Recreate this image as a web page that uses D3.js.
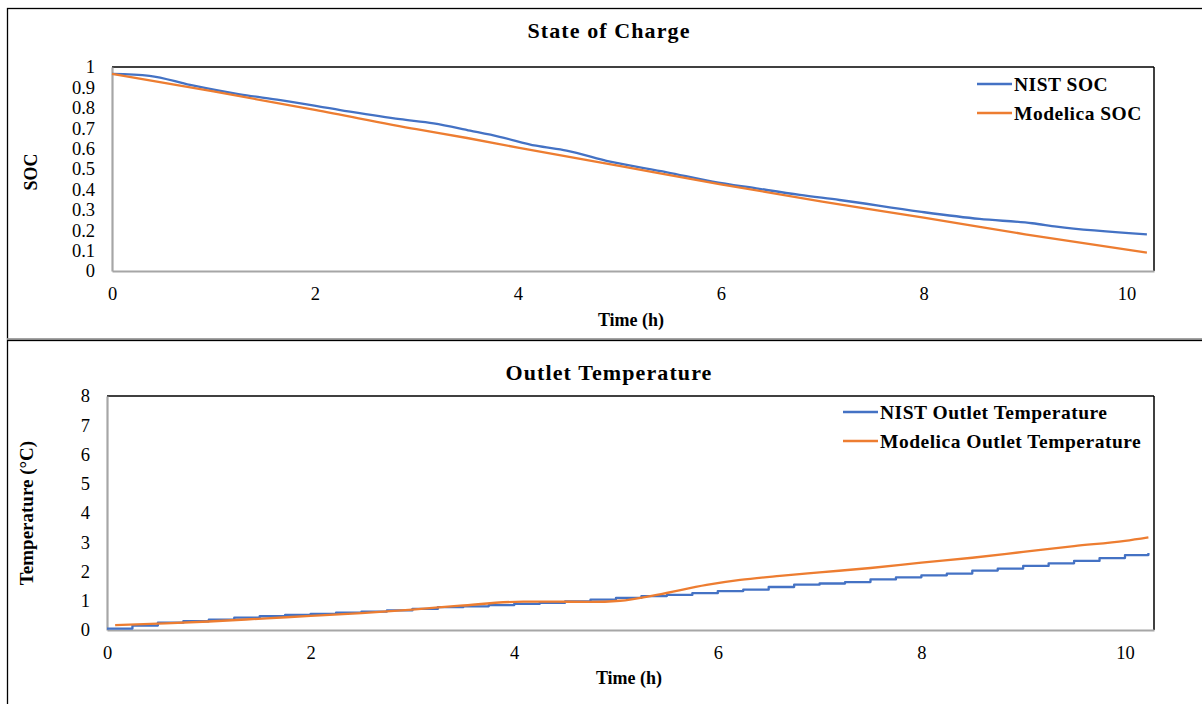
<!DOCTYPE html>
<html>
<head>
<meta charset="utf-8">
<script src="https://cdn.jsdelivr.net/npm/d3@7"></script>
<style>
  body { margin: 0; background: #fff; }
  svg { display: block; font-family: "Liberation Serif", "Times New Roman", serif; }
</style>
</head>
<body>
<svg id="chart" width="1202" height="704"></svg>
<script>
// ---- data ----
var timeTicks = [0, 2, 4, 6, 8, 10];
var socTicks = [0, 0.1, 0.2, 0.3, 0.4, 0.5, 0.6, 0.7, 0.8, 0.9, 1];
var tempTicks = [0, 1, 2, 3, 4, 5, 6, 7, 8];

var nistSocTime = [0, 0.37, 0.77, 1.26, 1.66, 2.25, 2.84, 3.17, 3.53, 3.82, 4.18, 4.48, 4.91, 5.47, 5.92, 6.35, 6.78, 7.17, 7.96, 8.55, 9.07, 9.31, 10.2];
var nistSoc = [0.966, 0.957, 0.912, 0.866, 0.838, 0.789, 0.744, 0.724, 0.688, 0.658, 0.614, 0.59, 0.536, 0.484, 0.438, 0.405, 0.373, 0.348, 0.291, 0.255, 0.234, 0.217, 0.18];

var modelicaSocTime = [0, 1, 2, 3, 3.5, 4, 5, 6, 7, 8, 9, 10.2];
var modelicaSoc = [0.966, 0.88, 0.79, 0.695, 0.652, 0.605, 0.515, 0.425, 0.34, 0.262, 0.18, 0.09];

var nistTempTime = [0, 0.25, 0.5, 0.75, 1, 1.25, 1.5, 1.75, 2, 2.25, 2.5, 2.75, 3, 3.25, 3.5, 3.75, 4, 4.25, 4.5, 4.75, 5, 5.25, 5.5, 5.75, 6, 6.25, 6.5, 6.75, 7, 7.25, 7.5, 7.75, 8, 8.25, 8.5, 8.75, 9, 9.25, 9.5, 9.75, 10, 10.23];
var nistTemp = [0.05, 0.15, 0.25, 0.3, 0.35, 0.42, 0.47, 0.52, 0.55, 0.59, 0.63, 0.67, 0.72, 0.78, 0.81, 0.85, 0.89, 0.93, 0.98, 1.04, 1.1, 1.16, 1.2, 1.26, 1.33, 1.38, 1.47, 1.55, 1.59, 1.64, 1.73, 1.8, 1.87, 1.93, 2.03, 2.1, 2.19, 2.28, 2.36, 2.46, 2.56, 2.63];

var modelicaTempTime = [0.08, 0.5, 1, 1.57, 2, 2.5, 3, 3.47, 4.09, 4.4, 4.74, 5.04, 5.4, 5.89, 6.22, 6.61, 7, 7.5, 8, 8.5, 9, 9.5, 10, 10.23];
var modelicaTemp = [0.17, 0.22, 0.29, 0.4, 0.48, 0.58, 0.7, 0.83, 0.97, 0.97, 0.96, 1.0, 1.2, 1.54, 1.71, 1.85, 1.97, 2.12, 2.3, 2.47, 2.67, 2.87, 3.05, 3.17];

var blue = "#4472C4", orange = "#ED7D31";

var svg = d3.select("#chart");
svg.append("rect").attr("width", 1202).attr("height", 704).attr("fill", "#fff");

// outer frames
svg.append("rect").attr("x", 7.5).attr("y", 8.5).attr("width", 1210).attr("height", 330.5)
    .attr("fill", "none").attr("stroke", "#000").attr("stroke-width", 1.3);
svg.append("line").attr("x1", 7).attr("x2", 1202).attr("y1", 339).attr("y2", 339)
    .attr("stroke", "#bdbdbd").attr("stroke-width", 1.5);
svg.append("rect").attr("x", 7.5).attr("y", 340.5).attr("width", 1210).attr("height", 380)
    .attr("fill", "none").attr("stroke", "#000").attr("stroke-width", 1.3);

function panel(cfg) {
    var x = d3.scaleLinear().domain([0, cfg.xMax]).range([cfg.left, cfg.right]);
    var y = d3.scaleLinear().domain(cfg.yDomain).range([cfg.bottom, cfg.top]);
    var g = svg.append("g");

    // plot border: top & right dark, axes grey
    g.append("line").attr("x1", cfg.left).attr("x2", cfg.right).attr("y1", cfg.top).attr("y2", cfg.top)
        .attr("stroke", "#000").attr("stroke-width", 1.5);
    g.append("line").attr("x1", cfg.right).attr("x2", cfg.right).attr("y1", cfg.top).attr("y2", cfg.bottom)
        .attr("stroke", "#000").attr("stroke-width", 1.5);

    var xAxis = g.append("g").attr("transform", "translate(0," + cfg.bottom + ")")
        .call(d3.axisBottom(x).tickValues(timeTicks).tickSize(0).tickPadding(16).tickFormat(d3.format("d")));
    var yAxis = g.append("g").attr("transform", "translate(" + cfg.left + ",0)")
        .call(d3.axisLeft(y).tickValues(cfg.yTicks).tickSize(0).tickPadding(17).tickFormat(function(d) { return +d.toFixed(1); }));
    [xAxis, yAxis].forEach(function(a) {
        a.select(".domain").attr("stroke", "#a6a6a6").attr("stroke-width", 2.2);
        a.selectAll("text").attr("fill", "#000").style("font-size", "18.5px")
            .style("font-family", "'Liberation Serif', 'Times New Roman', serif");
    });
    yAxis.raise();

    var line = d3.line().x(function(d) { return x(d[0]); }).y(function(d) { return y(d[1]); });
    cfg.series.forEach(function(s) {
        g.append("path")
            .datum(d3.zip(s.t, s.v))
            .attr("fill", "none")
            .attr("stroke", s.color)
            .attr("stroke-width", 2.3)
            .attr("stroke-linejoin", "round")
            .attr("d", line.curve(s.curve));
    });

    // titles
    g.append("text").attr("x", 609).attr("y", cfg.titleY).attr("text-anchor", "middle")
        .style("font-size", "22px").style("font-weight", "bold").style("letter-spacing", "1.1px")
        .text(cfg.title);
    g.append("text").attr("x", cfg.xTitleX).attr("y", cfg.xTitleY).attr("text-anchor", "middle")
        .style("font-size", "18px").style("font-weight", "bold")
        .text("Time (h)");
    g.append("text").attr("transform", "translate(" + cfg.yTitleX + "," + cfg.yTitleY + ") rotate(-90)")
        .attr("text-anchor", "middle")
        .style("font-size", cfg.yTitleSize).style("font-weight", "bold")
        .text(cfg.yTitle);

    // legend
    var leg = g.selectAll(".legendItem").data(cfg.series).enter().append("g")
        .attr("class", "legendItem")
        .attr("transform", function(d, i) { return "translate(" + cfg.legX + "," + (cfg.legY + i * 29) + ")"; });
    leg.append("line").attr("x1", 0).attr("x2", 35).attr("y1", 0).attr("y2", 0)
        .attr("stroke", function(d) { return d.color; }).attr("stroke-width", 2.3);
    leg.append("text").attr("x", 37).attr("y", 6.5)
        .style("font-size", "19.5px").style("font-weight", "bold").style("letter-spacing", "0.5px")
        .text(function(d) { return d.name; });
}

panel({
    left: 112, right: 1154, top: 67, bottom: 271,
    xMax: 10.27, yDomain: [0, 1], yTicks: socTicks,
    title: "State of Charge", titleY: 38,
    xTitleX: 631, xTitleY: 326,
    yTitle: "SOC", yTitleX: 37, yTitleY: 172, yTitleSize: "18px",
    legX: 977, legY: 84,
    series: [
        { name: "NIST SOC", t: nistSocTime, v: nistSoc, color: blue, curve: d3.curveMonotoneX },
        { name: "Modelica SOC", t: modelicaSocTime, v: modelicaSoc, color: orange, curve: d3.curveMonotoneX }
    ]
});

panel({
    left: 107, right: 1154, top: 396, bottom: 630,
    xMax: 10.285, yDomain: [0, 8], yTicks: tempTicks,
    title: "Outlet Temperature", titleY: 380,
    xTitleX: 629, xTitleY: 684,
    yTitle: "Temperature (°C)", yTitleX: 33, yTitleY: 513, yTitleSize: "19px",
    legX: 843, legY: 412,
    series: [
        { name: "NIST Outlet Temperature", t: nistTempTime, v: nistTemp, color: blue, curve: d3.curveStepAfter },
        { name: "Modelica Outlet Temperature", t: modelicaTempTime, v: modelicaTemp, color: orange, curve: d3.curveMonotoneX }
    ]
});
</script>
</body>
</html>
